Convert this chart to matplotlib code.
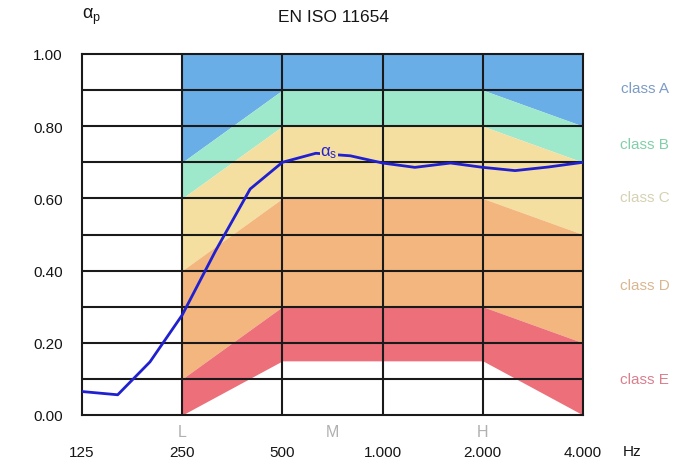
import numpy as np
import matplotlib
matplotlib.use('Agg')
from matplotlib import pyplot as plt

plt.rcParams['font.family'] = ['Liberation Sans', 'DejaVu Sans']
plt.rcParams['mathtext.default'] = 'regular'

# octave centres used for the class limits
octaves = [250, 500, 1000, 2000, 4000]

# lower limit of every class (EN ISO 11654 reference curves)
lim_A = [0.70, 0.90, 0.90, 0.90, 0.80]
lim_B = [0.60, 0.80, 0.80, 0.80, 0.70]
lim_C = [0.40, 0.60, 0.60, 0.60, 0.50]
lim_D = [0.10, 0.30, 0.30, 0.30, 0.20]
lim_E = [0.00, 0.15, 0.15, 0.15, 0.00]
top = [1.00, 1.00, 1.00, 1.00, 1.00]

# measured sound absorption, third octaves
freq = [125, 160, 200, 250, 315, 400, 500, 630, 800, 1000, 1250, 1600, 2000, 2500, 3150, 4000]
alpha_s = [0.065, 0.056, 0.147, 0.277, 0.455, 0.626, 0.700, 0.725, 0.718, 0.698,
           0.686, 0.698, 0.686, 0.677, 0.687, 0.700]

xticks = [125, 250, 500, 1000, 2000, 4000]
xticklabels = ['125', '250', '500', '1.000', '2.000', '4.000']
yticks = [0.0, 0.2, 0.4, 0.6, 0.8, 1.0]

classes = ['class A', 'class B', 'class C', 'class D', 'class E']
fill_cols = ['#6aaee8', '#9ee8cc', '#f5dfa0', '#f2b67e', '#ec6f7a']
text_cols = ['#7c9cc6', '#80cfa9', '#d6d1b3', '#d9b690', '#d9808e']
label_y = [0.905, 0.75, 0.605, 0.36, 0.10]

fig = plt.figure(figsize=(6.74, 4.64), dpi=100)
ax = fig.add_axes([82/674, 1-416/464, 501/674, 361/464])
ax.set_xscale('log', base=2)
ax.set_xlim(125, 4000)
ax.set_ylim(0, 1)

bounds = [top, lim_A, lim_B, lim_C, lim_D, lim_E]
for i in range(5):
    ax.fill_between(octaves, bounds[i+1], bounds[i], color=fill_cols[i], lw=0, zorder=1)

# grid
for y in np.arange(0.1, 1.0, 0.1):
    ax.axhline(y, color='#1a1a1a', lw=1.5, zorder=2)
for x in xticks[1:-1]:
    ax.axvline(x, color='#1a1a1a', lw=1.5, zorder=2)
for s in ax.spines.values():
    s.set_color('#1a1a1a')
    s.set_linewidth(1.5)

ax.plot(freq, alpha_s, color='#2020d0', lw=2, zorder=3)
ax.text(690, 0.727, r'$\alpha_s$', color='#2020d0', fontsize=12, ha='center', va='center',
        zorder=4, bbox=dict(facecolor=fill_cols[2], edgecolor='none', pad=0.5))

ax.set_xticks(xticks)
ax.set_xticklabels(xticklabels)
ax.minorticks_off()
ax.set_yticks(yticks)
ax.set_yticklabels(['%.2f' % v for v in yticks])
ax.tick_params(length=0, labelsize=11, colors='#151515')
ax.tick_params(axis='x', pad=21.5)
ax.tick_params(axis='y', pad=14)

for name, c, yy in zip(classes, text_cols, label_y):
    ax.text(1.123, yy, name, transform=ax.transAxes, color=c, fontsize=11, va='center', ha='center')

# L / M / H ranges
for lab, f in zip(['L', 'M', 'H'], [250, 707, 2000]):
    ax.text(f, -0.045, lab, color='#b0b0b0', fontsize=11.5, ha='center', va='center')

fig.text(632/674, 1-452/464, 'Hz', fontsize=11, color='#151515', ha='center', va='center')
fig.text(333/674, 1-18/464, 'EN ISO 11654', fontsize=12.5, color='#151515', ha='center', va='center')
fig.text(92/674, 1-17/464, r'$\alpha_p$', fontsize=13, color='#151515', ha='center', va='center')

fig.savefig('out.png', dpi=100)
